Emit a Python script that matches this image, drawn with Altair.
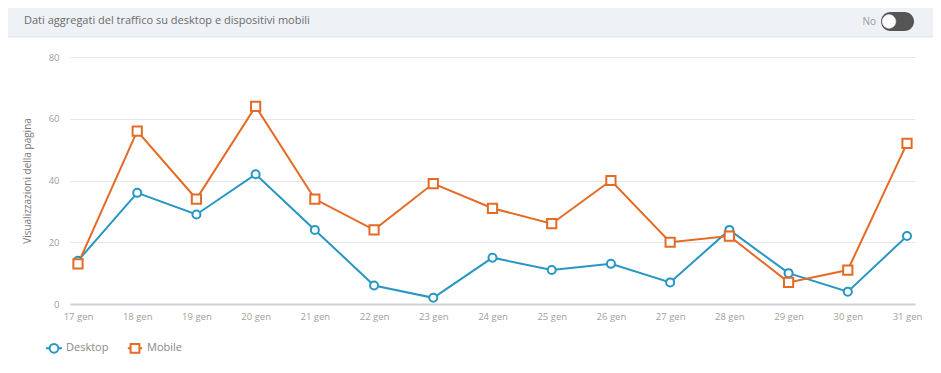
import altair as alt
import pandas as pd

# ---- data ----
days = ["17 gen", "18 gen", "19 gen", "20 gen", "21 gen", "22 gen", "23 gen", "24 gen",
        "25 gen", "26 gen", "27 gen", "28 gen", "29 gen", "30 gen", "31 gen"]
desktop = [14, 36, 29, 42, 24, 6, 2, 15, 11, 13, 7, 24, 10, 4, 22]
mobile = [13, 56, 34, 64, 34, 24, 39, 31, 26, 40, 20, 22, 7, 11, 52]
series = ["Desktop", "Mobile"]
colors = ["#2797c2", "#e36b25"]
header_text = "Dati aggregati del traffico su desktop e dispositivi mobili"
y_title = "Visualizzazioni della pagina"
toggle_text = "No"

rows = []
for name, vals in zip(series, [desktop, mobile]):
    for d, v in zip(days, vals):
        rows.append({"giorno": d, "serie": name, "valore": v})
df = pd.DataFrame(rows)

FONT = "Open Sans"

x_enc = alt.X("giorno:O", sort=days, title=None,
              scale=alt.Scale(type="point", padding=0.135),
              axis=alt.Axis(labelAngle=0, ticks=False, labelPadding=7, labelFontSize=9.5,
                            labelColor="#a0a0a0", labelFont=FONT, domainColor="#cfd1d4",
                            domainWidth=2, grid=False))
y_enc = alt.Y("valore:Q", title=y_title,
              scale=alt.Scale(domain=[0, 80], nice=False),
              axis=alt.Axis(values=[0, 20, 40, 60, 80], ticks=False, domain=False,
                            labelPadding=11, labelFontSize=9.5, labelColor="#a0a0a0",
                            labelFont=FONT, gridColor="#e6e6e6", gridWidth=1,
                            titleFont=FONT, titleFontSize=10, titleFontWeight="normal",
                            titleColor="#777777", titlePadding=16))
color_scale = alt.Scale(domain=series, range=colors)

circle_path = ("M-1,0H-0.55 M0.55,0H1 M-0.55,0A0.55,0.55 0 1,0 0.55,0"
               "A0.55,0.55 0 1,0 -0.55,0Z")
square_path = "M-0.9,0H-0.55 M0.55,0H0.9 M-0.55,-0.55H0.55V0.55H-0.55Z"

legend = alt.Legend(title=None, orient="none", direction="horizontal",
                    legendX=-25, legendY=282, symbolSize=256, symbolStrokeWidth=2,
                    symbolOpacity=1, symbolFillColor="white",
                    labelFont=FONT, labelFontSize=11, labelColor="#888888",
                    labelOffset=3, columnPadding=14)

base = alt.Chart(df)
lines = base.mark_line(strokeWidth=2).encode(
    x=x_enc, y=y_enc,
    color=alt.Color("serie:N", scale=color_scale, legend=None),
)
points = base.mark_point(filled=False, fill="white", strokeWidth=2, opacity=1).encode(
    x=x_enc, y=y_enc,
    color=alt.Color("serie:N", scale=color_scale, legend=None),
    shape=alt.Shape("serie:N", scale=alt.Scale(domain=series, range=["circle", "square"]),
                    legend=None),
    size=alt.Size("serie:N", scale=alt.Scale(domain=series, range=[64, 85]), legend=None),
)
legend_layer = base.mark_point(filled=False, opacity=0).encode(
    x=x_enc, y=y_enc,
    color=alt.Color("serie:N", scale=color_scale, legend=legend),
    shape=alt.Shape("serie:N", scale=alt.Scale(domain=series, range=[circle_path, square_path]),
                    legend=legend),
)

deco = alt.Chart(pd.DataFrame({"k": [0]}))
header_band = deco.mark_rect(fill="#eef2f6", stroke="#dfe5ec", strokeWidth=1).encode(
    x=alt.value(-63), x2=alt.value(864), y=alt.value(-60), y2=alt.value(-20))
header = deco.mark_text(align="left", baseline="middle", font=FONT, fontSize=11,
                        color="#6a6a6a").encode(
    x=alt.value(-46), y=alt.value(-36), text=alt.value(header_text))
toggle_label = deco.mark_text(align="right", baseline="middle", font=FONT, fontSize=10,
                              color="#9a9a9a").encode(
    x=alt.value(806), y=alt.value(-35), text=alt.value(toggle_text))
toggle_pill = deco.mark_rect(fill="#555555", cornerRadius=9.5).encode(
    x=alt.value(811), x2=alt.value(844), y=alt.value(-45), y2=alt.value(-26))
toggle_knob = deco.mark_point(shape="circle", filled=True, fill="white", size=190,
                              opacity=1, stroke="#dddddd", strokeWidth=0.5).encode(
    x=alt.value(819), y=alt.value(-35.5))

chart = alt.layer(
    header_band, header, toggle_label, toggle_pill, toggle_knob, lines, points, legend_layer
).resolve_scale(
    color="independent", shape="independent"
).properties(
    width=845, height=247,
    autosize=alt.AutoSizeParams(type="none"),
    padding={"left": 62, "top": 49, "right": 18, "bottom": 61},
    background="white",
).configure_view(stroke=None)

chart.save("out.html", embed_options={"renderer": "svg", "actions": False})
